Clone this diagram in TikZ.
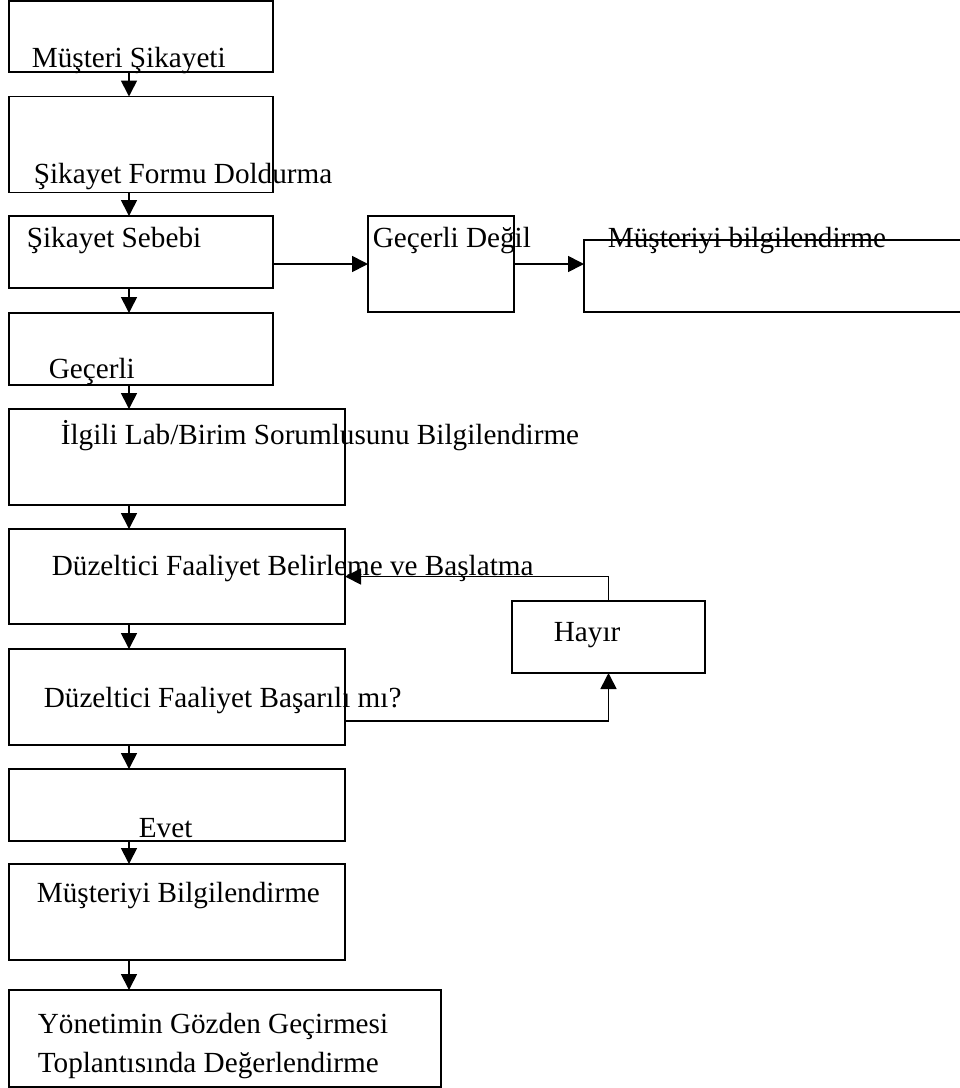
\documentclass[tikz,border=0pt]{standalone}
\usepackage{fontspec}
\setmainfont{Liberation Serif}
\usetikzlibrary{arrows.meta,calc}
\tikzset{
  stepbox/.style={draw,inner sep=0pt,outer sep=0pt},
  steptext/.style={anchor=base west,inner sep=0pt,align=left},
}
\begin{document}
\begin{tikzpicture}[x=1pt,y=-1pt,line width=1.7pt,>={Triangle[width=16pt,length=16pt]},font=\fontsize{29.2}{39}\selectfont]
    \clip (0,0) rectangle (960,1088);
    \coordinate (spine) at (129,0);
    % main column
    \node[stepbox,minimum width=264pt,minimum height=71pt] (complaint) at (141,36.5) {};
    \node[stepbox,minimum width=264pt,minimum height=96pt] (form) at (141,144.5) {};
    \node[stepbox,minimum width=264pt,minimum height=72pt] (reason) at (141,252) {};
    \node[stepbox,minimum width=264pt,minimum height=72pt] (valid) at (141,349) {};
    \node[stepbox,minimum width=336pt,minimum height=96pt] (unit) at (177,457) {};
    \node[stepbox,minimum width=336pt,minimum height=95pt] (action) at (177,576.5) {};
    \node[stepbox,minimum width=336pt,minimum height=96pt] (check) at (177,697) {};
    \node[stepbox,minimum width=336pt,minimum height=72pt] (yes) at (177,805) {};
    \node[stepbox,minimum width=336pt,minimum height=96pt] (inform) at (177,912) {};
    \node[stepbox,minimum width=432pt,minimum height=97pt] (review) at (225,1038.5) {};
    % side branch
    \node[stepbox,minimum width=146pt,minimum height=96pt] (invalid) at (441,264) {};
    \node[stepbox,minimum width=391pt,minimum height=72pt] (notify) at (779.5,276) {};
    \node[stepbox,minimum width=193pt,minimum height=72pt] (no) at (608.5,637) {};
    % texts
    \node[steptext] (complaintlbl) at (31,67) {Müşteri Şikayeti};
    \node[steptext] (formlbl) at (33,183) {Şikayet Formu Doldurma};
    \node[steptext] (reasonlbl) at (26,247) {Şikayet Sebebi};
    \node[steptext] (validlbl) at (48,378) {Geçerli};
    \node[steptext] (invalidlbl) at (372,247) {Geçerli Değil};
    \node[steptext] (notifylbl) at (607,247) {Müşteriyi bilgilendirme};
    \node[steptext] (unitlbl) at (60,444) {İlgili Lab/Birim Sorumlusunu Bilgilendirme};
    \node[steptext] (actionlbl) at (51,575) {Düzeltici Faaliyet Belirleme ve Başlatma};
    \node[steptext] (nolbl) at (553,641) {Hayır};
    \node[steptext] (checklbl) at (43,707) {Düzeltici Faaliyet Başarılı mı?};
    \node[steptext] (yeslbl) at (138,837) {Evet};
    \node[steptext] (informlbl) at (36,902) {Müşteriyi Bilgilendirme};
    \node[steptext] (reviewlbl) at (37,1072) {Yönetimin Gözden Geçirmesi\\Toplantısında Değerlendirme};
    % connectors
    \draw[->] (complaint.south -| spine) -- (form.north -| spine);
    \draw[->] (form.south -| spine) -- (reason.north -| spine);
    \draw[->] (reason.south -| spine) -- (valid.north -| spine);
    \draw[->] (valid.south -| spine) -- (unit.north -| spine);
    \draw[->] (unit.south -| spine) -- (action.north -| spine);
    \draw[->] (action.south -| spine) -- (check.north -| spine);
    \draw[->] (check.south -| spine) -- (yes.north -| spine);
    \draw[->] (yes.south -| spine) -- (inform.north -| spine);
    \draw[->] (inform.south -| spine) -- (review.north -| spine);
    \draw[->] (reason.east |- invalid.west) -- (invalid.west);
    \draw[->] (invalid.east) -- (notify.west |- invalid.east);
    \draw[->] ($(check.south east)!0.25!(check.north east)$) -| (no.south);
    \draw[->] (no.north) |- (action.east);
\end{tikzpicture}
\end{document}
